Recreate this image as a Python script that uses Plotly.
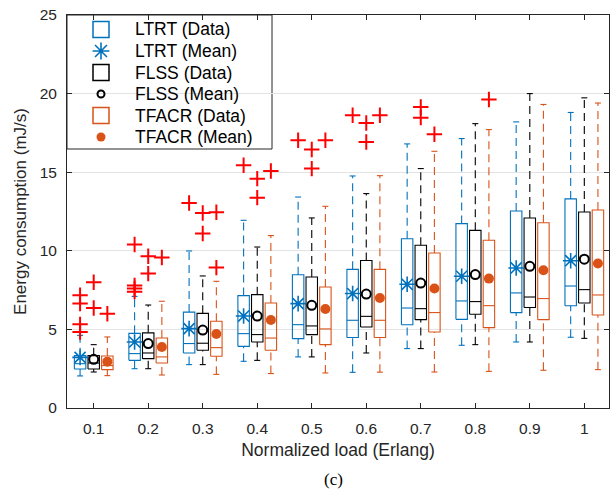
import plotly.graph_objects as go

loads = [0.1, 0.2, 0.3, 0.4, 0.5, 0.6, 0.7, 0.8, 0.9, 1.0]
tick_labels = ["0.1", "0.2", "0.3", "0.4", "0.5", "0.6", "0.7", "0.8", "0.9", "1"]

# LTRT
ltrt_q1 = [2.48, 3.03, 3.50, 3.92, 4.41, 4.48, 5.30, 5.64, 6.07, 6.50]
ltrt_med = [2.82, 3.46, 4.10, 4.73, 5.30, 5.58, 6.36, 6.81, 7.32, 7.76]
ltrt_q3 = [3.33, 4.75, 6.10, 7.15, 8.48, 8.82, 10.77, 11.73, 12.53, 13.30]
ltrt_lo = [2.04, 2.50, 2.76, 2.97, 3.25, 2.27, 3.78, 3.99, 4.20, 4.50]
ltrt_hi = [4.62, 7.10, 9.99, 11.94, 13.42, 14.76, 16.80, 17.14, 18.20, 18.80]
ltrt_mean = [3.22, 4.20, 5.05, 5.85, 6.64, 7.28, 7.87, 8.38, 8.91, 9.37]
ltrt_out = [[7.17, 6.64, 5.32, 4.83], [10.4, 7.8, 7.6, 7.4], [13.04], [15.44], [17.03],
            [18.62], [], [], [], []]

# FLSS
flss_q1 = [2.48, 3.14, 3.67, 4.20, 4.67, 5.15, 5.62, 5.96, 6.39, 6.68]
flss_med = [2.86, 3.50, 4.12, 4.67, 5.22, 5.83, 6.32, 6.77, 7.06, 7.53]
flss_q3 = [3.33, 4.78, 6.02, 7.21, 8.33, 9.38, 10.35, 11.30, 12.09, 12.47]
flss_lo = [2.29, 2.50, 2.76, 3.03, 3.25, 3.50, 3.78, 4.03, 4.20, 4.43]
flss_hi = [4.03, 6.55, 8.40, 10.24, 12.09, 13.64, 15.23, 18.09, 20.00, 19.73]
flss_mean = [3.10, 4.10, 4.96, 5.85, 6.53, 7.25, 7.95, 8.49, 9.01, 9.47]
flss_out = [[8.0, 6.36], [9.65, 8.55], [12.4, 11.1], [14.59, 13.38], [16.44, 15.23],
            [18.13, 16.92], [19.15, 18.47], [], [], []]

# TFACR
tfacr_q1 = [2.44, 2.86, 3.29, 3.67, 4.03, 4.48, 4.83, 5.11, 5.62, 5.92]
tfacr_med = [2.70, 3.25, 3.84, 4.45, 5.03, 5.58, 6.07, 6.51, 6.96, 7.19]
tfacr_q3 = [3.31, 4.45, 5.52, 6.68, 7.70, 8.82, 9.86, 10.67, 11.78, 12.60]
tfacr_lo = [2.06, 2.10, 2.14, 2.19, 2.23, 2.28, 2.29, 2.33, 2.40, 2.44]
tfacr_hi = [4.52, 6.79, 8.06, 10.97, 12.83, 14.78, 16.33, 17.71, 19.31, 19.40]
tfacr_mean = [2.95, 3.88, 4.71, 5.60, 6.30, 7.00, 7.60, 8.23, 8.76, 9.19]
tfacr_out = [[6.0], [9.57], [12.45, 8.93], [15.08], [17.03], [18.62], [17.41], [19.62], [], []]

legend_labels = ["LTRT (Data)", "LTRT (Mean)", "FLSS (Data)", "FLSS (Mean)",
                 "TFACR (Data)", "TFACR (Mean)"]

BLUE = "#0072BD"
BLACK = "#000000"
ORANGE = "#D95319"
RED = "#FF0000"
AXC = "#262626"

methods = [
    dict(name="LTRT", color=BLUE, off=-0.025, q1=ltrt_q1, med=ltrt_med, q3=ltrt_q3,
         lo=ltrt_lo, hi=ltrt_hi, mean=ltrt_mean, out=ltrt_out,
         msym="asterisk-open", msize=13, mline=1.6, mcolor=BLUE, lsize=14),
    dict(name="FLSS", color=BLACK, off=0.0, q1=flss_q1, med=flss_med, q3=flss_q3,
         lo=flss_lo, hi=flss_hi, mean=flss_mean, out=flss_out,
         msym="circle-open", msize=9, mline=2, mcolor=BLACK, lsize=7),
    dict(name="TFACR", color=ORANGE, off=0.025, q1=tfacr_q1, med=tfacr_med, q3=tfacr_q3,
         lo=tfacr_lo, hi=tfacr_hi, mean=tfacr_mean, out=tfacr_out,
         msym="circle", msize=10, mline=0, mcolor=ORANGE, lsize=9),
]

BW = 0.0105   # half box width
CW = 0.0055   # half cap width

fig = go.Figure()

for m in methods:
    bx, by, mx, my, wx, wy, cx, cy = [], [], [], [], [], [], [], []
    for i, L in enumerate(loads):
        c = L + m["off"]
        bx += [c - BW, c + BW, c + BW, c - BW, c - BW, None]
        by += [m["q1"][i], m["q1"][i], m["q3"][i], m["q3"][i], m["q1"][i], None]
        mx += [c - BW, c + BW, None]
        my += [m["med"][i], m["med"][i], None]
        wx += [c, c, None, c, c, None]
        wy += [m["q3"][i], m["hi"][i], None, m["lo"][i], m["q1"][i], None]
        cx += [c - CW, c + CW, None, c - CW, c + CW, None]
        cy += [m["hi"][i], m["hi"][i], None, m["lo"][i], m["lo"][i], None]
    fig.add_trace(go.Scatter(x=wx, y=wy, mode="lines", showlegend=False, hoverinfo="skip",
                             line=dict(color=m["color"], width=1.1, dash="8px,5px")))
    fig.add_trace(go.Scatter(x=cx, y=cy, mode="lines", showlegend=False, hoverinfo="skip",
                             line=dict(color=m["color"], width=1.1)))
    fig.add_trace(go.Scatter(x=bx, y=by, mode="lines", showlegend=False, hoverinfo="skip",
                             name=f"{m['name']} (Data)",
                             line=dict(color=m["color"], width=1.1)))
    fig.add_trace(go.Scatter(x=mx, y=my, mode="lines", showlegend=False, hoverinfo="skip",
                             line=dict(color=m["color"], width=1.1)))

for m in methods:
    ox, oy = [], []
    for i, L in enumerate(loads):
        for v in m["out"][i]:
            ox.append(L + m["off"])
            oy.append(v)
    fig.add_trace(go.Scatter(x=ox, y=oy, mode="markers", showlegend=False,
                             marker=dict(symbol="cross-thin-open", size=11, color=RED,
                                         line=dict(width=2, color=RED))))

for m in methods:
    xs = [L + m["off"] for L in loads]
    fig.add_trace(go.Scatter(x=xs, y=m["mean"], mode="markers", showlegend=False,
                             name=f"{m['name']} (Mean)",
                             marker=dict(symbol=m["msym"], size=m["msize"], color=m["mcolor"],
                                         line=dict(width=m["mline"], color=m["mcolor"]))))

# ---- legend (drawn on an overlay axis spanning the plot area in [0,1]) ----
PLOT_L, PLOT_T, PLOT_W, PLOT_H = 67, 15, 542, 393
def px_x(p):
    return (p - PLOT_L) / PLOT_W
def px_y(p):
    return (PLOT_T + PLOT_H - p) / PLOT_H

row_px = [29.5 + 21.5 * k for k in range(6)]
sym_x = px_x(101)
txt_x = px_x(133)
for k, m in enumerate(methods):
    yd = px_y(row_px[2 * k])
    ym = px_y(row_px[2 * k + 1])
    fig.add_trace(go.Scatter(x=[sym_x], y=[yd], xaxis="x2", yaxis="y2", mode="markers",
                             showlegend=False, hoverinfo="skip",
                             marker=dict(symbol="square-open", size=16, color=m["color"],
                                         line=dict(width=1.5, color=m["color"]))))
    fig.add_trace(go.Scatter(x=[sym_x], y=[ym], xaxis="x2", yaxis="y2", mode="markers",
                             showlegend=False, hoverinfo="skip",
                             marker=dict(symbol=m["msym"], size=m["lsize"], color=m["mcolor"],
                                         line=dict(width=m["mline"], color=m["mcolor"]))))

FONT = "Liberation Sans, Arial, sans-serif"

annotations = []
for k, lab in enumerate(legend_labels):
    annotations.append(dict(text=lab, x=txt_x, y=px_y(row_px[k]), xref="paper", yref="paper",
                            xanchor="left", yanchor="middle", showarrow=False,
                            font=dict(family=FONT, size=17.5, color="#000000")))
annotations.append(dict(text="(c)", x=0.491, y=-0.183, xref="paper", yref="paper",
                        xanchor="center", yanchor="middle", showarrow=False,
                        font=dict(family="Liberation Serif, Times New Roman, serif", size=17,
                                  color="#000000")))

shapes = [dict(type="rect", xref="paper", yref="paper", x0=0, x1=px_x(272),
               y0=px_y(149), y1=1, fillcolor="white", line=dict(color=AXC, width=1),
               layer="between")]

fig.update_layout(
    width=610, height=495,
    margin=dict(l=PLOT_L, r=610 - PLOT_L - PLOT_W, t=PLOT_T, b=495 - PLOT_T - PLOT_H),
    paper_bgcolor="white", plot_bgcolor="white",
    font=dict(family=FONT, color=AXC, size=15),
    showlegend=False,
    annotations=annotations,
    shapes=shapes,
    xaxis2=dict(overlaying="x", range=[0, 1], visible=False, fixedrange=True),
    yaxis2=dict(overlaying="y", range=[0, 1], visible=False, fixedrange=True),
)
fig.update_xaxes(selector=dict(overlaying=None))
fig.layout.xaxis.update(range=[0.051, 1.0453], tickvals=loads, ticktext=tick_labels,
                        ticks="inside", ticklen=5, tickcolor=AXC, showline=True, linecolor=AXC,
                        linewidth=1, mirror="allticks", showgrid=False, zeroline=False,
                        tickfont=dict(size=15.5), ticklabelstandoff=6,
                        title=dict(text="Normalized load (Erlang)", font=dict(size=17.5),
                                   standoff=8))
fig.layout.yaxis.update(range=[0, 25], tickvals=[0, 5, 10, 15, 20, 25],
                        ticks="inside", ticklen=5, tickcolor=AXC, showline=True, linecolor=AXC,
                        linewidth=1, mirror="allticks", showgrid=True, gridcolor="#e3e3e3",
                        zeroline=False, tickfont=dict(size=15.5), ticklabelstandoff=6,
                        title=dict(text="Energy consumption (mJ/s)", font=dict(size=17),
                                   standoff=8))

fig.write_html("out.html")
